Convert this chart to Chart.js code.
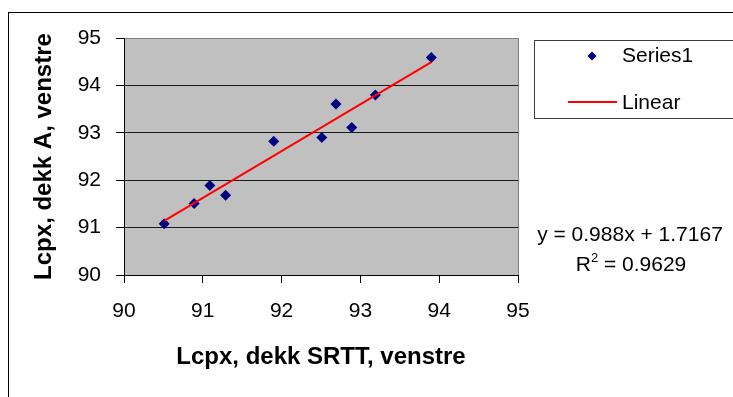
<!DOCTYPE html>
<html>
<head>
<meta charset="utf-8">
<script src="https://cdn.jsdelivr.net/npm/chart.js@4.4.0/dist/chart.umd.min.js"></script>
<style>
  body { margin: 0; background: #fff; }
  canvas { display: block; }
</style>
</head>
<body>
<canvas id="lcpxChart" width="733" height="397"></canvas>
<script>
// Lcpx measurements, SRTT deck (x) against deck A (y), left side
const srttValues  = [90.51, 90.89, 91.09, 91.29, 91.90, 92.51, 92.69, 92.89, 93.19, 93.90];
const dekkAValues = [91.08, 91.51, 91.89, 91.68, 92.82, 92.90, 93.61, 93.11, 93.80, 94.59];
const tickValues  = [90, 91, 92, 93, 94, 95];
const seriesNames = ["Series1", "Linear"];
const xTitle = "Lcpx, dekk SRTT, venstre";
const yTitle = "Lcpx, dekk A, venstre";

// linear trendline as reported
const trendSlope = 0.988;
const trendIntercept = 1.7167;
const rSquared = 0.9629;

const FONT = "'Liberation Sans', Arial, sans-serif";
const markerColor = "#000080";
const trendColor = "#ff0000";

const points = srttValues.map((x, i) => ({ x: x, y: dekkAValues[i] }));
const xMin = Math.min(...srttValues);
const xMax = Math.max(...srttValues);
const trendPoints = [xMin, xMax].map(x => ({ x: x, y: trendSlope * x + trendIntercept }));

/* ============================
   FRAME, LEGEND, EQUATION
============================ */
const excelFrame = {
  id: "excelFrame",
  beforeDraw(chart) {
    const { ctx, chartArea: a } = chart;
    ctx.save();
    ctx.fillStyle = "#fff";
    ctx.fillRect(0, 0, chart.width, chart.height);

    // outer border, runs off the right and bottom edges
    ctx.strokeStyle = "#000";
    ctx.lineWidth = 1;
    ctx.strokeRect(8.5, 12.5, chart.width, chart.height);

    // grey plot area
    ctx.fillStyle = "#c0c0c0";
    ctx.fillRect(a.left, a.top, a.right - a.left, a.bottom - a.top);
    ctx.strokeStyle = "#808080";
    ctx.strokeRect(a.left + 0.5, a.top + 0.5, a.right - a.left, a.bottom - a.top);
    ctx.restore();
  },
  afterDraw(chart) {
    const ctx = chart.ctx;
    const ds = chart.data.datasets;
    ctx.save();

    // legend box
    ctx.strokeStyle = "#404040";
    ctx.lineWidth = 1;
    ctx.strokeRect(534.5, 40.5, 300, 78);

    ctx.font = "21px " + FONT;
    ctx.fillStyle = "#000";
    ctx.textBaseline = "middle";
    ctx.textAlign = "left";

    ctx.fillStyle = ds[1].backgroundColor;
    Chart.helpers.drawPoint(ctx, { pointStyle: "rectRot", radius: 4.5, rotation: 0, borderWidth: 0 }, 592, 56);
    ctx.fillStyle = "#000";
    ctx.fillText(ds[1].label, 622, 56);

    ctx.strokeStyle = ds[0].borderColor;
    ctx.lineWidth = 2;
    ctx.beginPath();
    ctx.moveTo(568, 102);
    ctx.lineTo(617, 102);
    ctx.stroke();
    ctx.fillText(ds[0].label, 622, 103);

    // trendline equation
    ctx.textAlign = "center";
    ctx.fillText("y = " + trendSlope + "x + " + trendIntercept, 630, 235);

    const rPart = "R";
    const rest = " = " + rSquared;
    ctx.font = "21px " + FONT;
    const wR = ctx.measureText(rPart).width;
    const wRest = ctx.measureText(rest).width;
    ctx.font = "13px " + FONT;
    const wSup = ctx.measureText("2").width;
    let x = 631 - (wR + wSup + wRest) / 2;
    ctx.textAlign = "left";
    ctx.font = "21px " + FONT;
    ctx.fillText(rPart, x, 265);
    x += wR;
    ctx.font = "13px " + FONT;
    ctx.fillText("2", x, 258);
    x += wSup;
    ctx.font = "21px " + FONT;
    ctx.fillText(rest, x, 265);
    ctx.restore();
  }
};

/* ============================
   CHART
============================ */
const ctx = document.getElementById("lcpxChart").getContext("2d");

new Chart(ctx, {
  type: "scatter",
  data: {
    datasets: [
      {
        label: seriesNames[1],
        data: trendPoints,
        type: "line",
        showLine: true,
        borderColor: trendColor,
        borderWidth: 2,
        pointRadius: 0,
        fill: false,
        order: 0
      },
      {
        label: seriesNames[0],
        data: points,
        pointStyle: "rectRot",
        pointRadius: 5.5,
        backgroundColor: markerColor,
        borderColor: markerColor,
        borderWidth: 0,
        order: 1
      }
    ]
  },
  options: {
    responsive: false,
    animation: false,
    layout: { padding: { top: 38, right: 215, left: 0, bottom: 0 } },
    plugins: {
      legend: { display: false },
      tooltip: { enabled: false }
    },
    scales: {
      x: {
        type: "linear",
        min: tickValues[0],
        max: tickValues[tickValues.length - 1],
        afterBuildTicks: s => { s.ticks = tickValues.map(v => ({ value: v })); },
        afterFit: s => { s.height = 122; },
        ticks: { color: "#000", font: { family: FONT, size: 21 }, padding: 16, maxRotation: 0 },
        grid: { drawOnChartArea: false, drawTicks: true, tickLength: 8, color: "#000" },
        border: { color: "#000", width: 1 },
        title: {
          display: true,
          text: xTitle,
          color: "#000",
          font: { family: FONT, size: 24, weight: "bold" },
          padding: { top: 0, bottom: 25 }
        }
      },
      y: {
        type: "linear",
        min: tickValues[0],
        max: tickValues[tickValues.length - 1],
        afterBuildTicks: s => { s.ticks = tickValues.map(v => ({ value: v })); },
        afterFit: s => { s.width = 124; },
        ticks: { color: "#000", font: { family: FONT, size: 21 }, padding: 15 },
        grid: {
          color: c => (c.tick && c.tick.value === tickValues[tickValues.length - 1]) ? "#808080" : "#1a1a1a",
          tickColor: "#000",
          tickLength: 8,
          lineWidth: 1
        },
        border: { color: "#000", width: 1 },
        title: {
          display: true,
          text: yTitle,
          color: "#000",
          font: { family: FONT, size: 24, weight: "bold" },
          padding: { top: 30, bottom: 0 }
        }
      }
    }
  },
  plugins: [excelFrame]
});
</script>
</body>
</html>
